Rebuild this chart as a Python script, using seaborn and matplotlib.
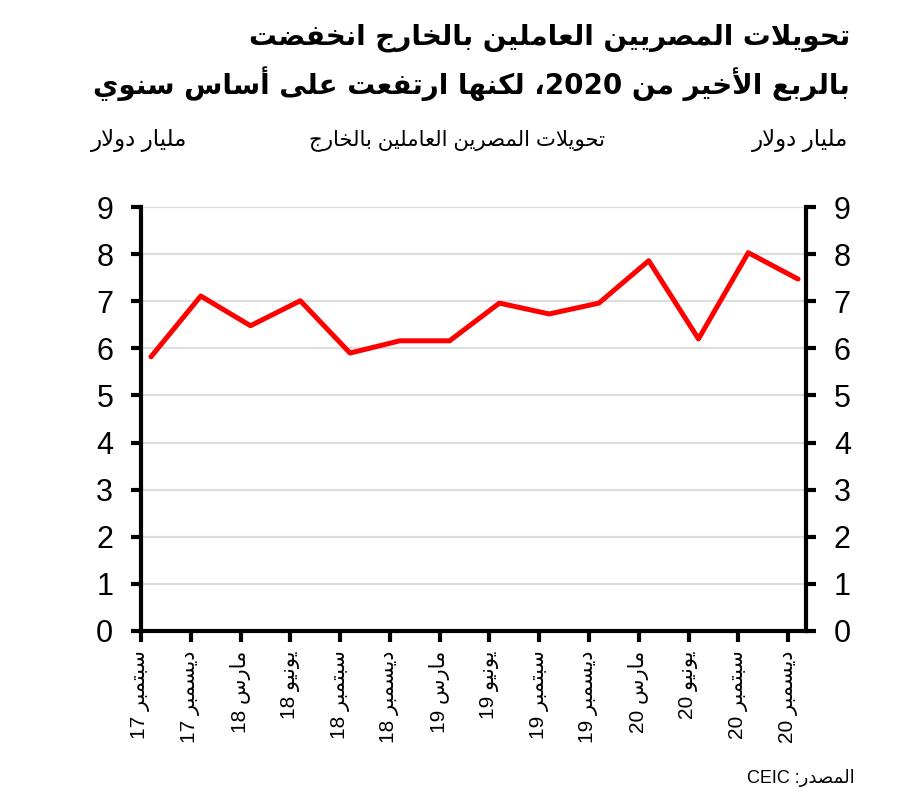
import re
import numpy as np
import pandas as pd
import seaborn as sns
import matplotlib.pyplot as plt

# ---- data (billion USD, quarterly) ----
months = ['سبتمبر', 'ديسمبر', 'مارس', 'يونيو',
          'سبتمبر', 'ديسمبر', 'مارس', 'يونيو',
          'سبتمبر', 'ديسمبر', 'مارس', 'يونيو',
          'سبتمبر', 'ديسمبر']
years = ['17', '17', '18', '18', '18', '18', '19', '19', '19', '19', '20', '20', '20', '20']
remittances = [5.82, 7.11, 6.48, 7.01, 5.90, 6.16, 6.16, 6.96, 6.73, 6.96, 7.86, 6.20, 8.03, 7.47]
y_ticks = [0, 1, 2, 3, 4, 5, 6, 7, 8, 9]

title_lines = ['تحويلات المصريين العاملين بالخارج انخفضت',
               'بالربع الأخير من 2020، لكنها ارتفعت على أساس سنوي']
series_name = 'تحويلات المصرين العاملين بالخارج'
unit = 'مليار دولار'
source = 'المصدر: CEIC'

# ---- arabic shaping (matplotlib has no text shaping / bidi) ----
# base -> (first presentation form, number of forms); forms: isolated, final, initial, medial
AR = {
    'ء': (0xFE80, 1), 'آ': (0xFE81, 2), 'أ': (0xFE83, 2), 'ؤ': (0xFE85, 2), 'إ': (0xFE87, 2),
    'ئ': (0xFE89, 4), 'ا': (0xFE8D, 2), 'ب': (0xFE8F, 4), 'ة': (0xFE93, 2), 'ت': (0xFE95, 4),
    'ث': (0xFE99, 4), 'ج': (0xFE9D, 4), 'ح': (0xFEA1, 4), 'خ': (0xFEA5, 4), 'د': (0xFEA9, 2),
    'ذ': (0xFEAB, 2), 'ر': (0xFEAD, 2), 'ز': (0xFEAF, 2), 'س': (0xFEB1, 4), 'ش': (0xFEB5, 4),
    'ص': (0xFEB9, 4), 'ض': (0xFEBD, 4), 'ط': (0xFEC1, 4), 'ظ': (0xFEC5, 4), 'ع': (0xFEC9, 4),
    'غ': (0xFECD, 4), 'ف': (0xFED1, 4), 'ق': (0xFED5, 4), 'ك': (0xFED9, 4), 'ل': (0xFEDD, 4),
    'م': (0xFEE1, 4), 'ن': (0xFEE5, 4), 'ه': (0xFEE9, 4), 'و': (0xFEED, 2), 'ى': (0xFEEF, 2),
    'ي': (0xFEF1, 4),
}
LAM_ALEF = {'آ': 0xFEF5, 'أ': 0xFEF7, 'إ': 0xFEF9, 'ا': 0xFEFB}


def shape_ar(text):
    items = []
    i = 0
    while i < len(text):
        c = text[i]
        if c == 'ل' and i + 1 < len(text) and text[i + 1] in LAM_ALEF:
            items.append((LAM_ALEF[text[i + 1]], 2))
            i += 2
            continue
        items.append(AR.get(c, c))
        i += 1
    out = []
    for k, it in enumerate(items):
        if isinstance(it, str):
            out.append(it)
            continue
        base, n = it
        prev = items[k - 1] if k > 0 else None
        nxt = items[k + 1] if k + 1 < len(items) else None
        join_prev = isinstance(prev, tuple) and prev[1] == 4
        join_next = n == 4 and isinstance(nxt, tuple) and nxt[1] > 1
        if n == 1:
            off = 0
        elif join_prev and join_next:
            off = 3
        elif join_prev:
            off = 1
        elif join_next:
            off = 2
        else:
            off = 0
        out.append(chr(base + off))
    return ''.join(out)


def ar(text):
    # shape then put in visual (left to right) order, keeping number / latin runs intact
    runs = re.findall(r'[0-9A-Za-z.]+|.', shape_ar(text))
    return ''.join(reversed(runs))


df = pd.DataFrame({'pos': np.arange(len(remittances)), 'value': remittances})
labels = [ar(m + ' ' + y) for m, y in zip(months, years)]

sns.set_theme(style='white')
plt.rcParams['font.family'] = ['Liberation Sans', 'DejaVu Sans']

fig = plt.figure(figsize=(9.01, 8.01), dpi=100)
ax = fig.add_axes([141 / 901, 1 - 631 / 801, 665 / 901, 424 / 801])

sns.lineplot(data=df, x='pos', y='value', color='#ff0000', linewidth=3.6, ax=ax)

ax.set_ylim(0, 9)
ax.set_xlim(-0.2, 13.16)
ax.set_yticks(y_ticks)
ax.set_xticks(df['pos'] - 0.2)
ax.set_xticklabels(labels, rotation=90, fontsize=15, va='top', ha='center')
ax.set_xlabel('')
ax.set_ylabel('')

ax.grid(axis='y', color='#dddddd', linewidth=1.6)
ax.set_axisbelow(True)
for side in ['left', 'right', 'bottom']:
    ax.spines[side].set_visible(True)
    ax.spines[side].set_color('black')
    ax.spines[side].set_linewidth(3)
ax.spines['top'].set_visible(False)

ax.tick_params(axis='y', which='major', left=True, right=True, labelleft=True, labelright=True,
               direction='out', length=7, width=3, color='black', pad=13, labelsize=22,
               labelcolor='black')
ax.tick_params(axis='x', which='major', bottom=True, direction='out', length=8, width=3,
               color='black', pad=6, labelcolor='black')

for line, ypix in zip(title_lines, [38, 84]):
    fig.text(850 / 901, 1 - ypix / 801, ar(line), ha='right', va='center', fontsize=20,
             fontweight='bold', color='black', family='DejaVu Sans')
fig.text(457 / 901, 1 - 140 / 801, ar(series_name), ha='center', va='center', fontsize=15.3,
         color='black')
fig.text(139 / 901, 1 - 140 / 801, ar(unit), ha='center', va='center', fontsize=16.5, color='black')
fig.text(800 / 901, 1 - 140 / 801, ar(unit), ha='center', va='center', fontsize=16.5, color='black')
fig.text(855 / 901, 1 - 778 / 801, ar(source), ha='right', va='center', fontsize=13, color='black')

fig.savefig('out.png', dpi=100, facecolor='white')
